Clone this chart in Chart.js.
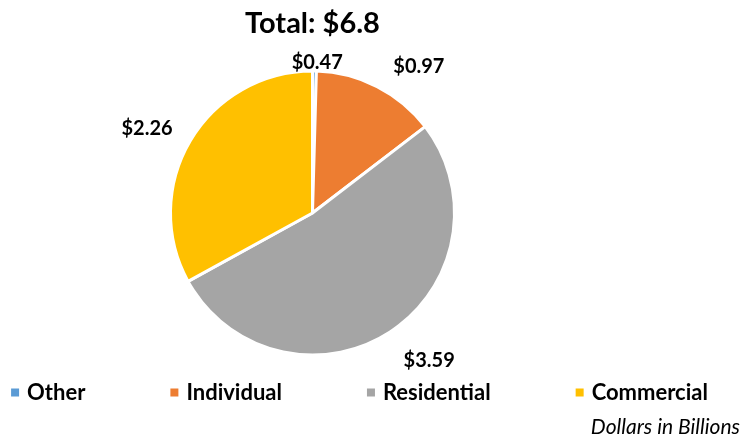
<!DOCTYPE html>
<html>
<head>
<meta charset="utf-8">
<script src="https://cdn.jsdelivr.net/npm/chart.js@4/dist/chart.umd.min.js"></script>
<style>
  html, body { margin: 0; padding: 0; background: #ffffff; }
  #wrap { width: 743px; height: 439px; }
</style>
</head>
<body>
<div id="wrap"><canvas id="c" width="743" height="439"></canvas></div>
<script>
// ---- data ----
const categories = ['Other', 'Individual', 'Residential', 'Commercial'];
// slice sizes as drawn in the picture (Other is a hairline sliver)
const values = [0.03, 0.97, 3.59, 2.26];
// data-label texts as printed on the picture
const valueLabels = ['$0.47', '$0.97', '$3.59', '$2.26'];
const titleText = 'Total: $6.8';
const unitNote = 'Dollars in Billions';

// ---- styling ----
const colors = ['#5B9BD5', '#ED7D31', '#A5A5A5', '#FFC000'];
const FONT = 'Lato, "Open Sans", sans-serif';
// label placement: angle shift (deg) from slice middle, distance beyond the rim (px)
const labelPlacement = [
  { shift: 1.0, dist: 10 },
  { shift: 8.7, dist: 40 },
  { shift: -5.5, dist: 45 },
  { shift: -3.4, dist: 44 }
];

const sliceLabels = {
  id: 'sliceLabels',
  afterDatasetsDraw(chart) {
    const ctx = chart.ctx;
    const meta = chart.getDatasetMeta(0);
    ctx.save();
    ctx.font = 'bold 20px ' + FONT;
    ctx.fillStyle = '#000000';
    ctx.textAlign = 'center';
    ctx.textBaseline = 'alphabetic';
    meta.data.forEach((arc, i) => {
      const p = arc.getProps(['x', 'y', 'startAngle', 'endAngle', 'outerRadius'], true);
      const mid = (p.startAngle + p.endAngle) / 2 + labelPlacement[i].shift * Math.PI / 180;
      const r = p.outerRadius + labelPlacement[i].dist;
      const cx = p.x + Math.cos(mid) * r;
      const cy = p.y + Math.sin(mid) * r;
      ctx.fillText(valueLabels[i], cx, cy + 7.5);
    });
    ctx.restore();
  }
};

const bottomLegend = {
  id: 'bottomLegend',
  afterDraw(chart) {
    const ctx = chart.ctx;
    ctx.save();
    ctx.font = 'bold 22px ' + FONT;
    ctx.textBaseline = 'alphabetic';
    ctx.textAlign = 'left';
    const box = 8, boxGap = 8, itemGap = 85;
    const widths = categories.map(t => ctx.measureText(t).width);
    const total = widths.reduce((a, w) => a + box + boxGap + w, 0) + itemGap * (categories.length - 1);
    let x = 359.5 - total / 2;
    const baseY = 400;
    categories.forEach((t, i) => {
      ctx.fillStyle = colors[i];
      ctx.fillRect(x, 388.5, box, box);
      ctx.fillStyle = '#000000';
      ctx.fillText(t, x + box + boxGap, baseY);
      x += box + boxGap + widths[i] + itemGap;
    });
    ctx.font = 'italic 21px ' + FONT;
    ctx.textAlign = 'right';
    ctx.fillStyle = '#000000';
    ctx.fillText(unitNote, 740, 434);
    ctx.restore();
  }
};

new Chart(document.getElementById('c'), {
  type: 'pie',
  data: {
    labels: categories,
    datasets: [{
      data: values,
      backgroundColor: colors,
      borderColor: '#ffffff',
      borderWidth: 3
    }]
  },
  options: {
    responsive: false,
    animation: false,
    devicePixelRatio: 1,
    radius: 142,
    layout: { padding: { right: 118, bottom: 73 } },
    plugins: {
      legend: { display: false },
      tooltip: { enabled: false },
      title: {
        display: true,
        text: titleText,
        color: '#000000',
        font: { family: FONT, size: 29, weight: 'bold' },
        padding: { top: 6, bottom: 19.2 }
      }
    }
  },
  plugins: [sliceLabels, bottomLegend]
});
</script>
</body>
</html>
